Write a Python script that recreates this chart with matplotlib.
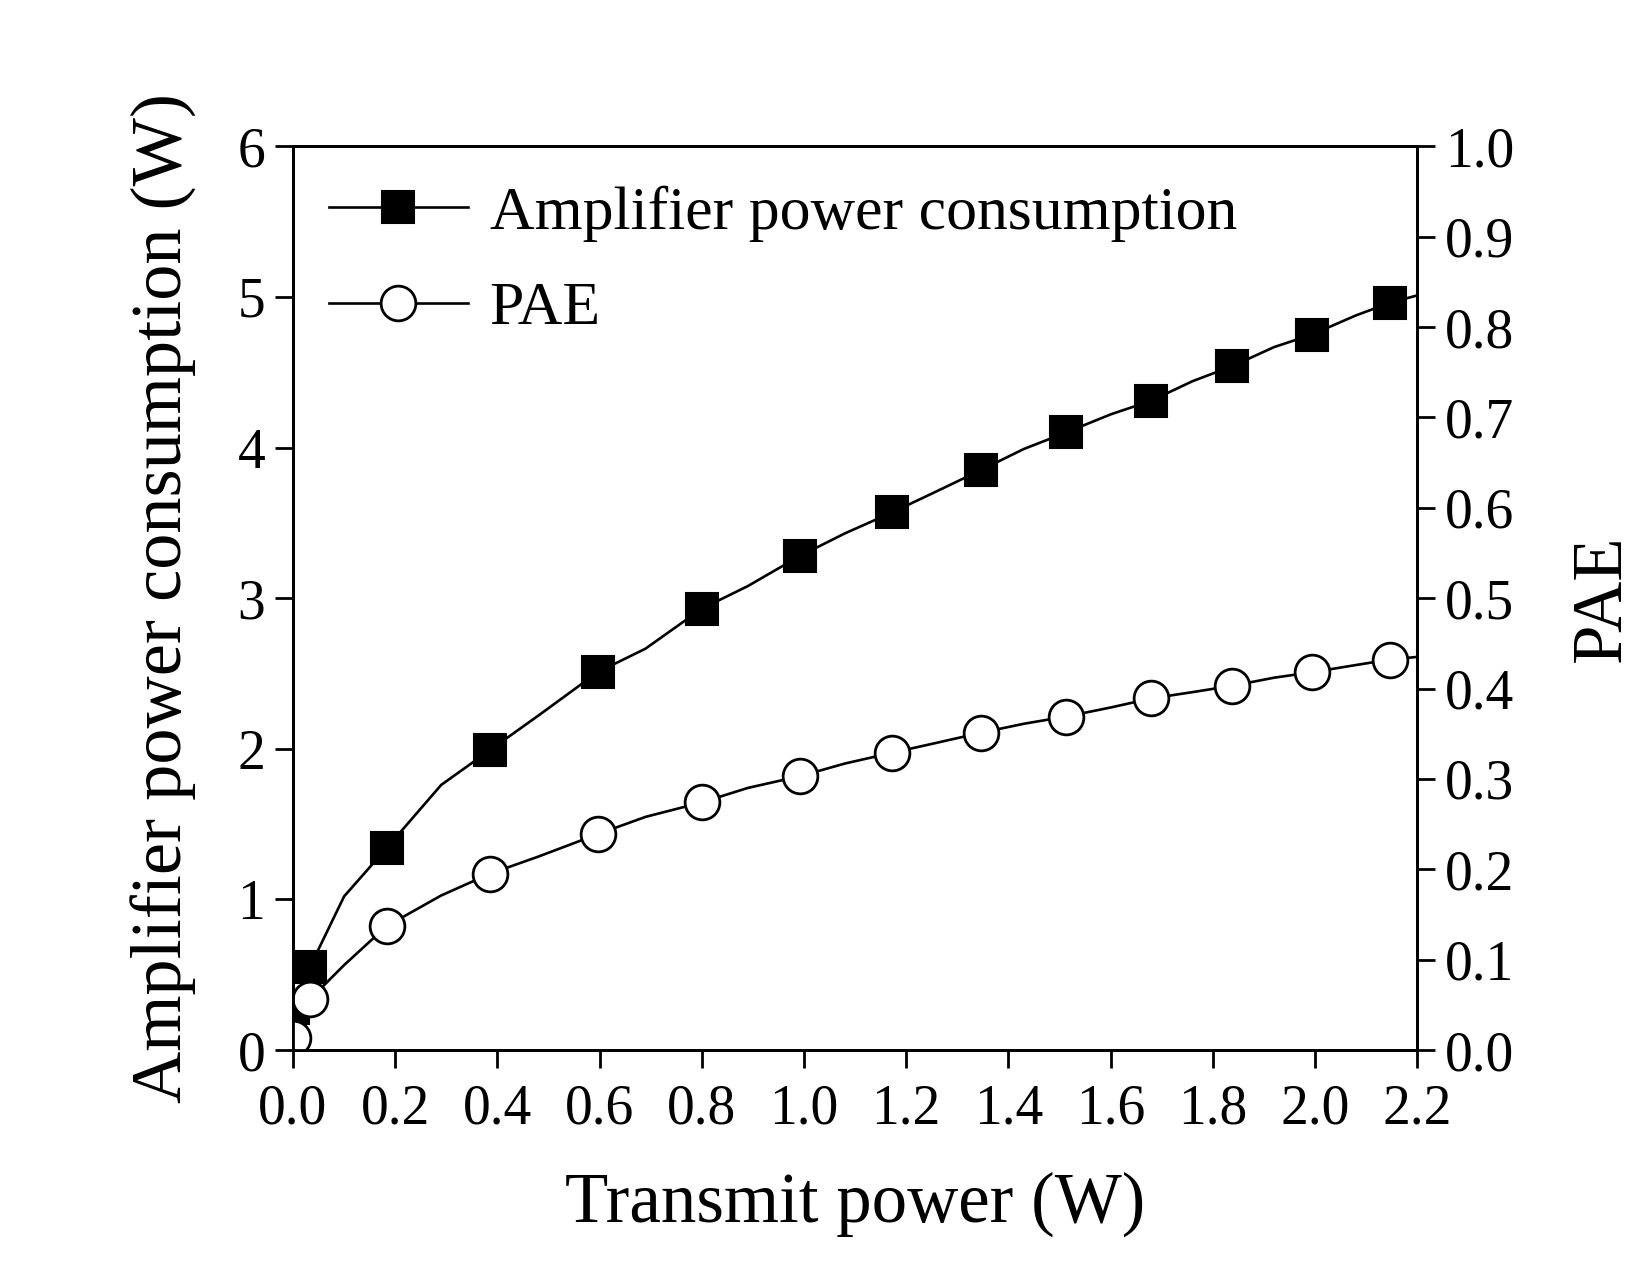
import numpy as np
import matplotlib.pyplot as plt

plt.rcParams['font.family'] = ['Liberation Serif', 'DejaVu Serif']

# transmit power (W); markers sit on every other point
tx_power = [0.0, 0.033, 0.10, 0.183, 0.29, 0.385, 0.48, 0.597, 0.69, 0.80,
            0.89, 0.992, 1.08, 1.173, 1.26, 1.346, 1.43, 1.513, 1.60, 1.679,
            1.76, 1.838, 1.92, 1.994, 2.08, 2.146, 2.2]
amp_power = [0.28, 0.55, 1.02, 1.34, 1.76, 1.99, 2.22, 2.51, 2.665, 2.93,
             3.08, 3.28, 3.43, 3.57, 3.71, 3.85, 3.99, 4.10, 4.22, 4.31,
             4.44, 4.54, 4.667, 4.75, 4.877, 4.96, 5.01]
pae = [0.013, 0.056, 0.094, 0.137, 0.171, 0.195, 0.214, 0.239, 0.258, 0.274,
       0.290, 0.303, 0.317, 0.329, 0.340, 0.351, 0.361, 0.369, 0.379, 0.389,
       0.396, 0.403, 0.412, 0.418, 0.426, 0.432, 0.435]
marker_idx = [0] + list(range(1, 26, 2))

fig = plt.figure(figsize=(16.46, 12.61), dpi=100)
ax = fig.add_axes([0.178, 0.1673, 0.683, 0.7167])
ax2 = ax.twinx()

l1, = ax.plot(tx_power, amp_power, color='black', lw=1.9, marker='s', ms=23,
              mfc='black', mec='black', mew=1.5, markevery=marker_idx,
              label='Amplifier power consumption')
l2, = ax2.plot(tx_power, pae, color='black', lw=1.9, marker='o', ms=25,
               mfc='white', mec='black', mew=2.0, markevery=marker_idx,
               label='PAE')

ax.set_xlim(0, 2.2)
ax.set_ylim(0, 6)
ax2.set_ylim(0, 1.0)
ax.set_xticks(np.arange(0, 2.21, 0.2))
ax.set_xticklabels(['%.1f' % v for v in np.arange(0, 2.21, 0.2)])
ax.set_yticks(range(0, 7))
ax2.set_yticks(np.arange(0, 1.01, 0.1))
ax2.set_yticklabels(['%.1f' % v for v in np.arange(0, 1.01, 0.1)])

for a in (ax, ax2):
    for s in a.spines.values():
        s.set_linewidth(2.0)
    a.tick_params(direction='out', length=13, width=2.0, labelsize=40, pad=7)
ax.tick_params(axis='x', pad=11)

ax.set_xlabel('Transmit power (W)', fontsize=51, labelpad=26)
ax.set_ylabel('Amplifier power consumption (W)', fontsize=52, labelpad=29)
ax2.set_ylabel('PAE', fontsize=51, labelpad=40)

ax2.legend(handles=[l1, l2], loc='upper left', bbox_to_anchor=(0.032, 0.957),
           frameon=False, fontsize=44.5, handlelength=2.25, handletextpad=0.35,
           labelspacing=0.64, borderpad=0, borderaxespad=0)

fig.savefig('out.png', dpi=100)
